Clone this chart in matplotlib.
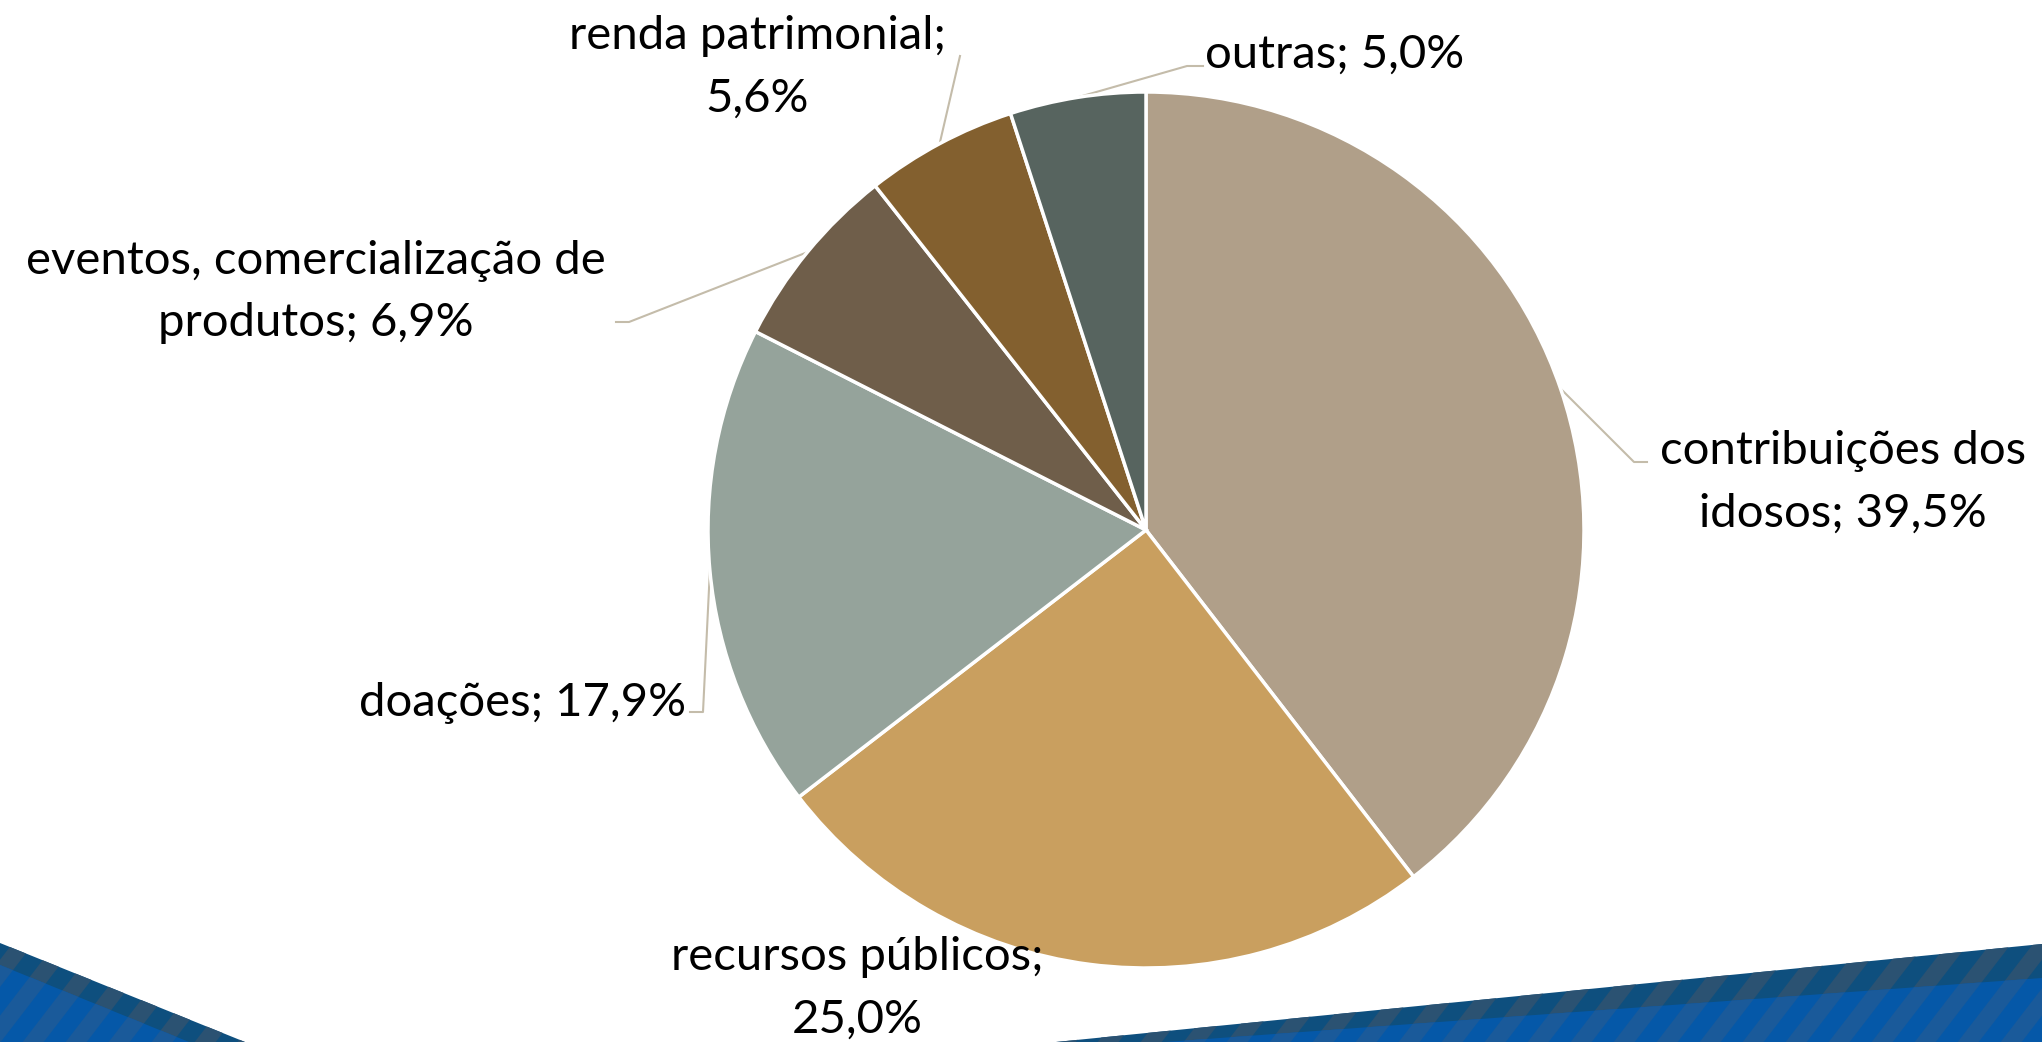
import numpy as np
import matplotlib
matplotlib.use('Agg')
import matplotlib.pyplot as plt
from matplotlib.patches import Polygon

plt.rcParams['font.family'] = ['Lato', 'DejaVu Sans']

# Fonte de receita das instituições
rotulos = ['contribuições dos\nidosos; 39,5%', 'recursos públicos;\n25,0%', 'doações; 17,9%',
           'eventos, comercialização de\nprodutos; 6,9%', 'renda patrimonial;\n5,6%', 'outras; 5,0%']
valores = [39.5, 25.0, 17.9, 6.9, 5.6, 5.0]
cores = ['#b09f89', '#c99f5f', '#95a39b', '#6f5e4a', '#83602f', '#57645f']

W, H = 2042, 1042
fig = plt.figure(figsize=(W / 100, H / 100), dpi=100)

# background decoration (pixel coords, y downwards)
bg = fig.add_axes([0, 0, 1, 1], zorder=0)
bg.set_xlim(0, W)
bg.set_ylim(H, 0)
bg.axis('off')


def striped(pts, base, stripe):
    poly = Polygon(pts, closed=True, facecolor=base, edgecolor='none')
    bg.add_patch(poly)
    for x0 in np.arange(-200, W + 200, 43):
        s = Polygon([(x0, H + 10), (x0 + 21, H + 10), (x0 + 21 + 140, 870), (x0 + 140, 870)],
                    closed=True, facecolor=stripe, edgecolor='none')
        bg.add_patch(s)
        s.set_clip_path(poly)


striped([(0, 943), (245, H), (0, H)], '#0e4f7e', '#2b5272')
striped([(0, 965), (189, H), (0, H)], '#0558a8', '#1a5a9a')
striped([(1056, H), (W, 944), (W, H)], '#0e4f7e', '#2b5272')
striped([(1165, H), (W, 978), (W, H)], '#0558a8', '#1a5a9a')

# pie axes: 1 data unit = 438 px, centre at (1146, 530)
cx, cy, R = 1146, 530, 438
ax = fig.add_axes([0, 0, 1, 1], zorder=1)
ax.patch.set_alpha(0)
wedges, _ = ax.pie(valores, colors=cores, startangle=90, counterclock=False,
                   wedgeprops=dict(edgecolor='white', linewidth=2.5))
ax.set_xlim(-cx / R, (W - cx) / R)
ax.set_ylim(-(H - cy) / R, cy / R)
ax.set_aspect('auto')
ax.axis('off')


def d(px, py):
    return ((px - cx) / R, (cy - py) / R)


# label positions (px) and leader elbow/end points
texto_pos = [(1843, 482, 'center'), (857, 988, 'center'), (686, 703, 'right'),
             (316, 292, 'center'), (757, 67, 'center'), (1205, 55, 'left')]
guias = [[(1634, 462), (1647, 462)], None, [(703, 712), (690, 712)],
         [(629, 322), (616, 322)], [(960, 56)], [(1187, 66), (1203, 66)]]

lc = '#c4bcaa'
for w, rot, (px, py, ha), g in zip(wedges, rotulos, texto_pos, guias):
    ang = np.deg2rad((w.theta1 + w.theta2) / 2)
    if g is not None:
        pts = [(np.cos(ang), np.sin(ang))] + [d(*p) for p in g]
        xs, ys = zip(*pts)
        ax.plot(xs, ys, color=lc, lw=1.5, zorder=0)
    x, y = d(px, py)
    ax.text(x, y, rot, ha=ha, va='center', fontsize=34, color='black',
            multialignment='center', linespacing=1.6)

fig.savefig('out.png', dpi=100)
